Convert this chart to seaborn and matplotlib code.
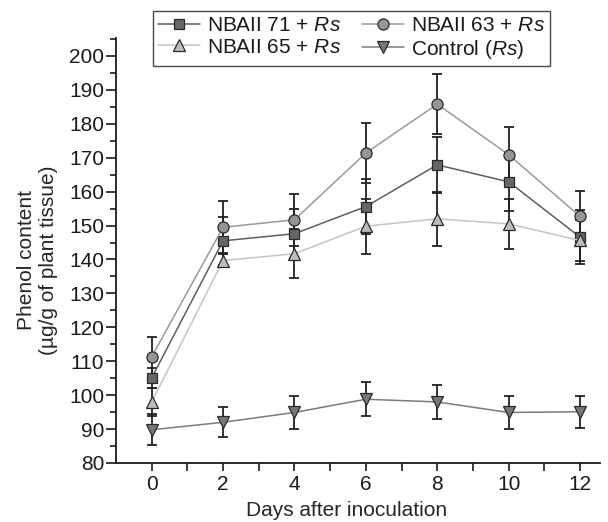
import numpy as np
import pandas as pd
import matplotlib
matplotlib.use("Agg")
import matplotlib.pyplot as plt
import seaborn as sns

days = [0, 2, 4, 6, 8, 10, 12]
nb71 = [105.1, 145.5, 147.6, 155.6, 167.9, 162.9, 146.6]
nb71_err = [3.0, 7.1, 7.2, 8.0, 8.2, 8.5, 8.0]
nb63 = [111.3, 149.5, 151.7, 171.4, 185.8, 170.9, 152.7]
nb63_err = [5.8, 7.6, 7.6, 8.8, 8.8, 8.3, 7.4]
nb65 = [98.0, 139.7, 141.7, 149.8, 152.0, 150.5, 145.6]
nb65_err = [4.0, 2.0, 7.2, 8.1, 8.0, 7.4, 6.0]
control = [89.8, 92.0, 94.9, 98.8, 98.0, 94.9, 95.1]
control_err = [4.5, 4.4, 4.8, 5.0, 5.0, 5.0, 4.7]

labels = ["NBAII 71 + $\\mathit{Rs}$", "NBAII 63 + $\\mathit{Rs}$",
          "NBAII 65 + $\\mathit{Rs}$", "Control ($\\mathit{Rs}$)"]

sns.set_style("ticks")
plt.rcParams['font.family'] = ['Liberation Sans', 'DejaVu Sans']
plt.rcParams['mathtext.fontset'] = 'custom'
plt.rcParams['mathtext.rm'] = 'Liberation Sans'
plt.rcParams['mathtext.it'] = 'Liberation Sans:italic'
plt.rcParams['text.color'] = '#1a1a1a'

FS = 15

fig = plt.figure(figsize=(6.08, 5.22), dpi=100)
ax = fig.add_axes([116/608, 1-463/522, (600-116)/608, (463-38)/522])

series = [
    (nb71, nb71_err, labels[0], 's', '#5e5e5e', '#666666', 7.0),
    (nb63, nb63_err, labels[1], 'o', '#9a9a9a', '#959595', 8.0),
    (nb65, nb65_err, labels[2], '^', '#c4c4c4', '#bdbdbd', 8.6),
    (control, control_err, labels[3], 'v', '#7a7a7a', '#777777', 8.4),
]

order = [2, 0, 1, 3]
handles = {}
for i in order:
    vals, err, lab, mk, lc, fc, ms = series[i]
    df = pd.DataFrame({"day": days, "val": vals})
    ax.errorbar(days, vals, yerr=err, fmt='none', ecolor='#222222',
                elinewidth=1.3, capsize=3.8, capthick=1.3, zorder=2)
    sns.lineplot(data=df, x="day", y="val", ax=ax, color=lc, lw=1.1,
                 marker=mk, markersize=ms, markerfacecolor=fc,
                 markeredgecolor='#2a2a2a', markeredgewidth=0.9,
                 label=lab, zorder=3 + i, legend=False)
    handles[i] = ax.lines[-1]

ax.set_xlim(-1.0, 12.56)
ax.set_ylim(80, 205.3)
ax.set_xticks(days)
ax.set_xticks([1, 3, 5, 7, 9, 11], minor=True)
ax.set_yticks(np.arange(80, 201, 10))
ax.set_yticks(np.arange(85, 206, 10), minor=True)
ax.tick_params(axis='both', which='major', labelsize=FS, colors='#1a1a1a',
               width=1.2, direction='out')
ax.tick_params(axis='y', which='major', length=7.5, pad=1)
ax.tick_params(axis='y', which='minor', length=4, width=1.2, color='#1a1a1a')
ax.tick_params(axis='x', which='major', length=5.5, pad=3)
ax.tick_params(axis='x', which='minor', length=5.5, width=1.2, color='#1a1a1a')
for s in ['top', 'right']:
    ax.spines[s].set_visible(False)
for s in ['left', 'bottom']:
    ax.spines[s].set_linewidth(1.3)
    ax.spines[s].set_color('#1a1a1a')

ax.set_xlabel("Days after inoculation", fontsize=FS)
ax.xaxis.set_label_coords((347 - 116) / 484, -(516 - 463) / 425)
ax.xaxis.label.set_va('baseline')
ax.set_ylabel("Phenol content\n(µg/g of plant tissue)", fontsize=FS,
              linespacing=1.2)
ax.yaxis.set_label_coords(-(116 - 58) / 484, (463 - 260) / 425)

leg = fig.legend([handles[0], handles[2], handles[1], handles[3]],
                 [labels[0], labels[2], labels[1], labels[3]],
                 ncol=2, loc='upper left',
                 bbox_to_anchor=(153/608, 1-11/522),
                 bbox_transform=fig.transFigure, frameon=True, fancybox=False,
                 fontsize=FS, handlelength=2.0, handletextpad=0.35,
                 columnspacing=1.0, labelspacing=0.12, borderpad=0.25,
                 borderaxespad=0)
leg.get_frame().set_edgecolor('#1a1a1a')
leg.get_frame().set_linewidth(1.0)

fig.savefig("out.png", dpi=100)
